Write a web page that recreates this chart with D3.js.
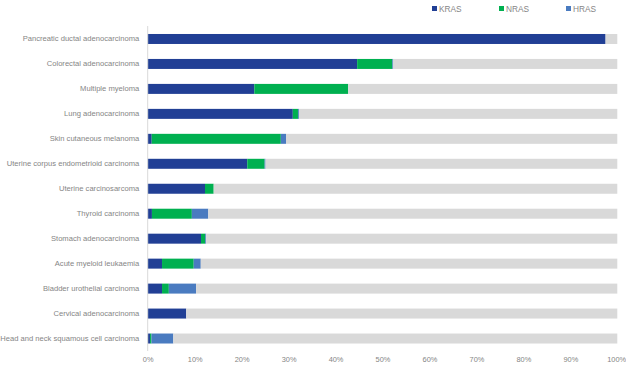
<!DOCTYPE html>
<html>
<head>
<meta charset="utf-8">
<script src="https://cdn.jsdelivr.net/npm/d3@7"></script>
<style>
  body { margin: 0; background: #fff; }
  svg { display: block; font-family: "Liberation Sans", Arial, sans-serif; }
</style>
</head>
<body>
<svg width="626" height="369"></svg>
<script>
const width = 626;
const height = 369;

// values in % of samples
const cancers = [
    "Pancreatic ductal adenocarcinoma",
    "Colorectal adenocarcinoma",
    "Multiple myeloma",
    "Lung adenocarcinoma",
    "Skin cutaneous melanoma",
    "Uterine corpus endometrioid carcinoma",
    "Uterine carcinosarcoma",
    "Thyroid carcinoma",
    "Stomach adenocarcinoma",
    "Acute myeloid leukaemia",
    "Bladder urothelial carcinoma",
    "Cervical adenocarcinoma",
    "Head and neck squamous cell carcinoma"
];
const kras = [97.5, 44.6, 22.7, 30.9, 0.85, 21.2, 12.2, 0.9, 11.35, 3.05, 3.05, 8.2, 0.5];
const nras = [0, 7.5, 20.0, 1.1, 27.5, 3.7, 1.85, 8.5, 0.9, 6.75, 1.45, 0, 0.3];
const hras = [0, 0.2, 0, 0.2, 1.1, 0.2, 0, 3.5, 0.2, 1.5, 5.8, 0, 4.65];
const xTicks = [0, 10, 20, 30, 40, 50, 60, 70, 80, 90, 100];

const keys = ["KRAS", "NRAS", "HRAS", "rest"];
const colors = {KRAS: "#213f95", NRAS: "#00b050", HRAS: "#4a7bc0", rest: "#d9d9d9"};

const rows = cancers.map((c, i) => ({
    name: c,
    KRAS: kras[i],
    NRAS: nras[i],
    HRAS: hras[i],
    rest: 100 - kras[i] - nras[i] - hras[i]
}));

const svg = d3.select('svg');

const x = d3.scaleLinear()
    .domain([0, 100])
    .range([147.7, 617.3]);

const y = d3.scaleBand()
    .domain(cancers)
    .range([26.5, 351])
    .paddingInner(0.6)
    .paddingOuter(0.3);

const series = d3.stack().keys(keys)(rows);

svg.append('g')
    .selectAll('g')
    .data(series)
    .enter()
    .append('g')
    .attr('fill', d => colors[d.key])
    .selectAll('rect')
    .data(d => d)
    .enter()
    .append('rect')
    .attr('x', d => x(d[0]))
    .attr('y', d => y(d.data.name))
    .attr('width', d => Math.max(0, x(d[1]) - x(d[0])))
    .attr('height', y.bandwidth());

// left axis line
svg.append('line')
    .attr('x1', x(0)).attr('x2', x(0))
    .attr('y1', 26).attr('y2', 351)
    .attr('stroke', '#d9d9d9')
    .attr('stroke-width', 1);

const yAxis = svg.append('g')
    .attr('transform', 'translate(' + (x(0) - 0.5) + ',0)')
    .call(d3.axisLeft(y).tickSize(0).tickPadding(8));
yAxis.select('.domain').remove();
yAxis.selectAll('text')
    .attr('fill', '#858585')
    .style('font-size', '7.6px');

const xAxis = svg.append('g')
    .attr('transform', 'translate(0,351)')
    .call(d3.axisBottom(x).tickValues(xTicks).tickSize(0).tickPadding(6).tickFormat(d => d + '%'));
xAxis.select('.domain').remove();
xAxis.selectAll('text')
    .attr('fill', '#858585')
    .style('font-size', '7.4px')
    .attr('dx', d => d === 100 ? -1.2 : 0);

// legend
const legendX = [432, 499, 566];
const legend = svg.append('g')
    .selectAll('g')
    .data(keys.slice(0, 3))
    .enter()
    .append('g')
    .attr('transform', (d, i) => 'translate(' + legendX[i] + ',6)');

legend.append('rect')
    .attr('width', 5)
    .attr('height', 5)
    .attr('fill', d => colors[d]);

legend.append('text')
    .attr('x', 7)
    .attr('y', 5.6)
    .attr('fill', '#858585')
    .style('font-size', '8.3px')
    .text(d => d);
</script>
</body>
</html>
